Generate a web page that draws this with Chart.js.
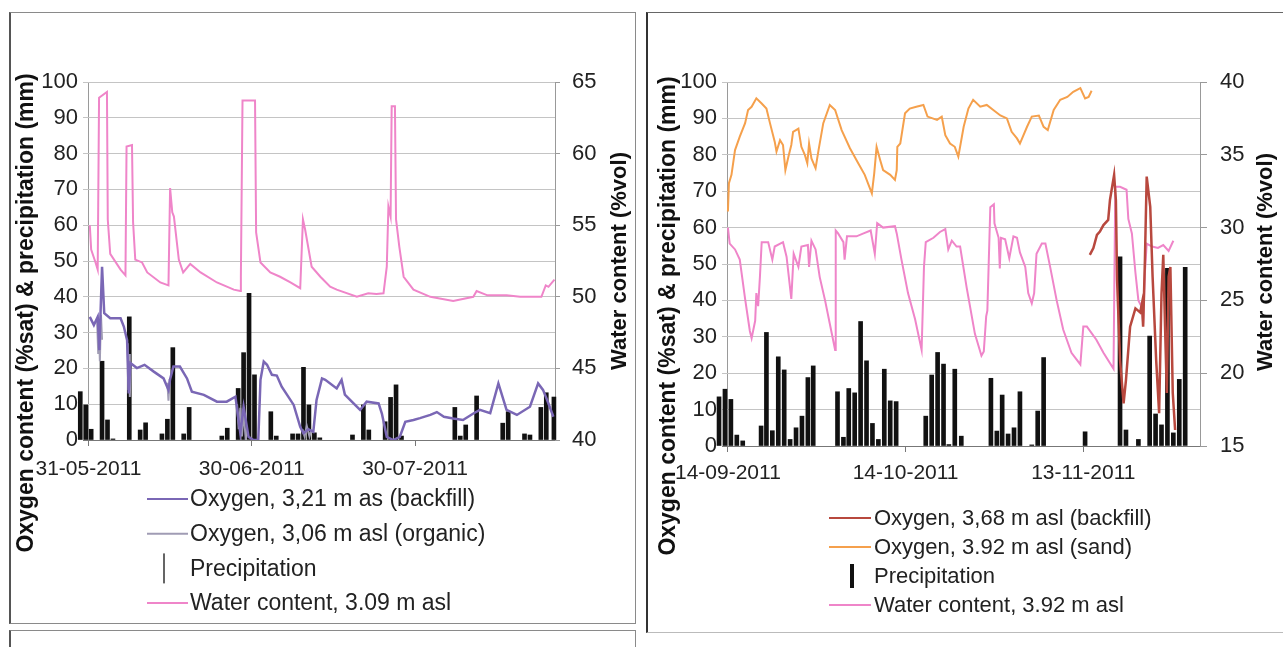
<!DOCTYPE html>
<html>
<head>
<meta charset="utf-8">
<script src="https://cdn.jsdelivr.net/npm/chart.js@4.4.0/dist/chart.umd.min.js"></script>
<style>
  body { margin:0; background:#fff; width:1283px; height:647px; overflow:hidden; position:relative; }
  .panel { position:absolute; box-sizing:border-box; background:#fff; }
  #boxL  { left:9px; top:12px; width:627px; height:612px; border:1px solid #8a8a8a; border-left:2px solid #555; }
  #boxL2 { left:9px; top:630px; width:627px; height:40px; border:1px solid #8a8a8a; border-left:2px solid #555; }
  #boxR  { left:646px; top:12px; width:660px; height:621px; border-top:1px solid #666; border-left:2px solid #333; border-bottom:1px solid #bbb; }
  canvas { position:absolute; }
  #cL { left:10px; top:13px; }
  #cR { left:649px; top:13px; }
</style>
</head>
<body>
<div class="panel" id="boxL"></div>
<div class="panel" id="boxL2"></div>
<div class="panel" id="boxR"></div>
<canvas id="cL" width="624" height="609"></canvas>
<canvas id="cR" width="634" height="618"></canvas>
<script>
// ─────────────────────────────────────────────────────────────────────────────
//  DATA — x = days since first date tick
// ─────────────────────────────────────────────────────────────────────────────

// left panel: 31-05-2011 .. late 08-2011
const leftTickDays   = [0, 30, 60];
const leftTickLabels = ['31-05-2011', '30-06-2011', '30-07-2011'];

const leftWaterDay = [0.25,0.5,1.3,1.7,1.95,3.4,3.55,4.0,5.9,6.8,7.0,8.0,8.2,8.6,9.85,10.8,13.2,14.7,15.0,15.4,15.7,16.6,17.4,18.7,20.6,23.6,26.7,27.9,28.0,28.3,30.6,30.8,31.6,33.4,35.2,37.1,38.9,39.4,39.8,41.0,42.6,44.4,45.6,49.3,51.4,52.9,54.2,54.8,55.1,55.5,55.7,56.3,56.5,57.1,57.9,59.7,62.8,67.0,70.7,71.3,73.3,76.8,79.3,83.2,84.0,84.5,85.6];
const leftWaterVol = [55.0,53.3,52.4,51.9,63.9,64.3,55.4,53.0,51.9,51.5,60.5,60.6,55.2,52.6,52.4,51.7,51.0,50.8,57.6,55.9,55.6,52.6,51.7,52.3,51.7,51.0,50.5,50.4,51.4,63.7,63.7,54.5,52.4,51.7,51.4,51.0,50.6,55.4,54.7,52.1,51.4,50.7,50.5,50.0,50.25,50.2,50.25,52.1,56.3,55.6,63.3,63.3,55.4,53.5,51.4,50.5,50.0,49.7,50.0,50.4,50.1,50.1,50.0,50.0,50.8,50.7,51.2];

const leftBackfillDay = [0.25,1.0,1.7,2.0,2.5,2.9,4.0,5.9,6.5,7.1,7.4,7.7,8.9,10.3,12.0,13.8,14.7,15.0,15.6,16.8,18.1,19.0,21.2,23.6,25.4,27.0,27.4,27.9,28.5,29.4,30.3,31.2,31.6,32.2,32.8,33.7,34.6,35.5,37.7,38.9,39.5,40.4,41.3,41.9,42.9,43.5,45.6,46.5,47.1,48.7,49.9,51.1,53.3,53.9,54.8,56.0,57.2,58.2,59.7,60.9,62.8,64.0,65.3,67.0,68.8,70.7,71.9,73.8,75.3,76.8,78.7,81.1,82.6,83.5,84.5,85.4];
const leftBackfillSat = [34.4,32.1,34.4,25.1,48.4,35.4,34.0,34.0,31.7,27.9,13.0,21.5,20.1,21.0,19.1,17.2,14.0,17.0,20.5,20.5,17.2,13.5,12.6,10.7,10.7,12.1,7.5,1.9,9.3,0.9,0,0,16.8,21.9,21.0,18.2,18.0,14.9,9.8,3.7,1.9,3.0,2.3,11.2,17.2,16.8,14.4,16.8,12.7,10.2,8.4,10.7,10.2,7.4,0.9,0,0.9,5.1,5.6,6.1,7.0,7.8,6.5,6.0,5.6,7.4,8.4,7.5,15.8,8.4,7.0,9.3,15.8,14.0,10.2,6.5];

const leftOrganicDay = [1.6,1.8,1.95,2.1,2.3,2.5,2.6, 7.2,7.35,7.5,7.6,7.75,7.9, 14.5,14.7,14.9,15.0, 27.3,27.6,27.9,28.2,28.5,28.9,29.0, 39.3,39.7,40.1,40.6,41.0];
const leftOrganicSat = [33,24,30,22,35,28,null, 27,14,24,12,20,null, 16,11,17,null, 10,3,9,1,8,0,null, 3,1,4,1,3];

const leftRainDay = [-1.5,-0.5,0.5,2.5,3.5,4.5,7.5,9.5,10.5,13.5,14.5,15.5,17.5,18.5,24.5,25.5,27.5,28.5,29.5,30.5,33.5,34.5,37.5,38.5,39.5,40.5,41.5,42.5,48.5,50.5,51.5,54.5,55.5,56.5,57.5,67.3,68.3,69.3,71.3,76.1,77.1,80.1,81.1,83.1,84.1,85.5];
const leftRainMm  = [13.5,9.8,3.0,22,5.6,0.3,34.4,2.8,4.8,1.7,5.8,25.8,1.7,9.1,1.1,3.3,14.4,24.4,41.0,18.2,7.9,1.1,1.7,1.7,20.3,9.8,2.0,0.6,1.4,9.8,2.8,5.1,11.9,15.4,1.1,9.1,1.1,4.2,12.3,4.7,7.9,1.7,1.4,9.1,13.2,12.0];

// right panel: 14-09-2011 .. early 12-2011
const rightTickDays   = [0, 30, 60];
const rightTickLabels = ['14-09-2011', '14-10-2011', '13-11-2011'];

const rightSandDay = [0,0.17,0.6,1.2,2.0,2.9,3.4,4.0,4.8,5.7,6.5,7.1,7.9,8.2,8.8,9.3,9.7,10.2,10.7,11.0,11.9,12.4,13.0,13.4,13.7,14.1,14.8,15.3,16.1,17.2,18.1,19.2,20.6,22.0,23.1,24.3,24.7,25.1,25.7,26.2,27.4,28.2,28.5,28.6,29.1,29.9,30.7,31.8,33.0,33.7,35.3,36.1,36.7,37.5,38.3,38.9,39.8,40.6,41.4,42.6,43.7,44.8,46.0,47.1,47.9,48.8,49.3,50.5,51.3,52.5,53.3,54.0,55.0,56.1,57.3,58.3,59.5,60.3,60.9,61.4];
const rightSandSat = [64.4,72.2,74.5,81.3,85,88.7,92.3,93.2,95.5,94.1,92.7,88.7,83.6,80.9,84,82.7,75.8,79.4,82.7,86.3,87.2,82.2,79.9,77.7,83.1,79,76.3,81.3,88.7,93.7,92.3,86.8,81.8,77.7,74.5,69.4,74.9,82.2,78.6,75.8,74.5,73.1,75.8,82.2,83.1,91.4,92.7,93.2,93.7,90.5,89.6,90.5,85.4,83.1,82.2,79.5,87.7,92.7,95.1,93.2,93.7,92.3,90.8,90,86.3,84.5,83.1,87.7,90.5,90.8,87.7,86.8,92.3,95.1,95.9,97.3,98.3,95.5,95.9,97.6];

const rightBackfillDay = [61.1,61.7,62.3,62.8,63.4,64.2,64.5,65.2,65.5,65.7,66.2,66.8,67.2,67.9,68.8,69.6,69.9,70.1,70.4,70.7,71.3,71.7,72.3,72.8,73.2,73.5,73.8,74.1,74.4,74.7,75.1,75.5];
const rightBackfillSat = [52.5,54.4,58.0,58.9,60.7,62.1,67.6,74.5,67.6,45.6,23.6,11.7,18.1,32.8,37.8,36.7,39.2,32.8,51.1,74.0,65.7,46.4,23.6,9.0,41.9,52.5,32.8,14.6,46.5,49.2,14.6,4.4];

const rightWaterDay = [0,0.3,1.2,2.0,2.9,3.7,4.0,4.6,4.8,5.1,5.4,5.7,6.8,7.5,7.9,9.3,9.9,10.7,11.1,11.9,12.4,13.5,13.7,14.1,14.8,15.5,16.4,17.2,18.1,18.2,18.6,19.5,19.7,20.1,21.7,22.9,24.1,24.8,25.2,26.2,28.2,28.5,29.3,30.4,31.6,32.7,33.1,33.4,34.7,35.8,36.7,37.2,37.8,38.6,39.2,40.3,41.7,42.8,43.2,43.6,43.8,44.3,44.9,45.0,45.7,45.9,46.1,46.8,47.5,48.2,48.8,49.3,50.2,50.7,51.3,51.7,52.1,53.0,53.6,54.4,55.5,56.6,58.0,59.5,60.0,60.6,62.2,63.4,65.1,65.4,66.2,67.3,67.6,68.2,68.8,69.3,69.9,70.1,70.4,70.7,71.6,72.6,73.5,74.4,75.2];
const rightWaterVol = [30.0,28.9,28.5,27.8,25.1,22.9,22.4,23.6,25.5,24.6,26.6,29.0,29.0,27.8,28.7,29.0,28,25.1,28.2,27.3,28.7,28.8,27.3,29.1,28.5,26.6,25.0,23.4,21.6,29.8,29.6,29.0,27.8,29.4,29.4,29.6,29.8,28.2,30.3,30.0,30.1,29.6,27.8,25.5,23.7,21.6,27.3,29.0,29.3,29.7,29.9,28.5,29.1,28.7,28.7,25.9,22.7,21.2,21.5,23.9,24.3,31.4,31.6,30.3,29.3,27.2,29.3,29.2,27.9,29.4,29.3,28.3,27.3,25.5,24.8,25.5,28.2,28.9,28.9,27.3,25.0,23.0,21.4,20.6,23.2,23.2,22.3,21.4,20.3,32.8,32.8,32.6,30.6,29.6,26.9,25.0,24.5,23.4,26.9,28.9,28.7,28.6,28.8,28.4,29.1];

const rightRainDay = [-1.5,-0.5,0.5,1.5,2.5,5.6,6.5,7.5,8.5,9.5,10.5,11.5,12.5,13.5,14.4,18.5,19.5,20.4,21.4,22.4,23.4,24.4,25.4,26.4,27.4,28.4,33.4,34.4,35.4,36.4,37.3,38.3,39.4,44.4,45.4,46.3,47.3,48.3,49.3,51.3,52.3,53.3,60.3,66.2,67.2,69.3,71.2,72.2,73.2,74.2,75.2,76.2,77.2];
const rightRainMm  = [13.5,15.6,12.8,3.0,1.4,5.5,31.2,4.2,24.5,20.9,1.8,5.0,8.2,18.8,22.0,14.9,2.4,15.8,14.6,34.2,23.4,6.2,1.8,21.1,12.4,12.2,8.2,19.5,25.7,22.5,0.4,21.1,2.7,18.6,4.1,14.0,3.3,5.0,14.9,0.3,9.6,24.3,3.9,52.0,4.4,1.8,30.2,8.8,5.8,48.8,3.6,18.3,49.1];

const titleLeftAxis  = 'Oxygen content (%sat) & precipitation (mm)';
const titleRightAxis = 'Water content (%vol)';

// ─────────────────────────────────────────────────────────────────────────────
//  HELPERS
// ─────────────────────────────────────────────────────────────────────────────
const FONT = '"Liberation Sans", Arial, sans-serif';
Chart.defaults.font.family = FONT;
Chart.defaults.color = '#222';

const pts = (xs, ys) => xs.map((x, i) => ({ x, y: ys[i] }));

const ln = (label, xs, ys, color, axis, w=2, order=1) => ({
  type:'line', label, data:pts(xs, ys), yAxisID:axis,
  borderColor:color, backgroundColor:color, borderWidth:w,
  pointRadius:0, tension:0, spanGaps:false, order
});

const rain = (xs, ys) => ({
  type:'bar', label:'Precipitation', data:pts(xs, ys), yAxisID:'y',
  backgroundColor:'#111', borderWidth:0, barThickness:4, clip:false, order:10
});

// axis titles + stacked legend, drawn on the canvas
const deco = c => ({
  id:'deco',
  afterDraw(chart) {
    const ctx = chart.ctx;
    ctx.save();
    ctx.fillStyle = '#111';
    ctx.textAlign = 'center'; ctx.textBaseline = 'middle';
    c.titles.forEach(t => {
      ctx.save();
      ctx.font = `bold ${t.size}px ${FONT}`;
      ctx.translate(t.x, t.y); ctx.rotate(-Math.PI/2);
      ctx.fillText(t.text, 0, 0);
      ctx.restore();
    });
    const L = c.legend;
    ctx.font = `${L.size}px ${FONT}`;
    ctx.textAlign = 'left';
    L.order.forEach((di, i) => {
      const ds = chart.data.datasets[di];
      const y = L.y + i*L.dy;
      if (ds.type === 'bar') {
        ctx.fillStyle = L.markColor;
        ctx.fillRect(L.markX - L.markW/2, y - L.markH/2, L.markW, L.markH);
      } else {
        ctx.strokeStyle = ds.borderColor; ctx.lineWidth = 2;
        ctx.beginPath(); ctx.moveTo(L.x0, y); ctx.lineTo(L.x1, y); ctx.stroke();
      }
      ctx.fillStyle = '#222';
      ctx.fillText(ds.label, L.tx, y + 1);
    });
    ctx.restore();
  }
});

const mkPanel = (id, c) => new Chart(document.getElementById(id), {
  type:'line',
  data:{ datasets:c.datasets },
  options:{
    responsive:false, animation:false, devicePixelRatio:1,
    layout:{ padding:{ top:c.top, left:0, right:0, bottom:0 } },
    plugins:{ legend:{ display:false }, tooltip:{ enabled:false } },
    scales:{
      x:{
        type:'linear', min:c.xMin, max:c.xMax, offset:false,
        afterBuildTicks:s => { s.ticks = c.tickDays.map(v => ({ value:v })); },
        ticks:{ autoSkip:false, maxRotation:0, minRotation:0, padding:c.xPad, color:'#222', font:{ size:21 },
          callback:v => c.tickLabels[c.tickDays.indexOf(v)] ?? '' },
        grid:{ offset:false, color:ctx => (ctx.tick && ctx.tick.value === 0) ? '#9a9a9a' : 'rgba(0,0,0,0)',
          tickColor:'#777', tickLength:6, lineWidth:1 },
        border:{ color:'#777', width:1 },
        afterFit:s => { s.height = c.xH; }
      },
      y:{
        position:'left', min:0, max:100,
        ticks:{ stepSize:10, padding:5, color:'#222', font:{ size:22 } },
        grid:{ color:'#c4c4c4', drawTicks:false, lineWidth:1 },
        border:{ display:false },
        afterFit:s => { s.width = c.yW; }
      },
      y2:{
        position:'right', min:c.wMin, max:c.wMax,
        ticks:{ stepSize:5, padding:c.y2Pad, color:'#222', font:{ size:22 } },
        grid:{ drawOnChartArea:false, tickLength:c.y2Tick, tickColor:'#999' },
        border:{ color:'#999', width:1 },
        afterFit:s => { s.width = c.y2W; }
      }
    }
  },
  plugins:[deco(c)]
});

// ─────────────────────────────────────────────────────────────────────────────
//  LEFT PANEL
// ─────────────────────────────────────────────────────────────────────────────
mkPanel('cL', {
  top:69, xH:182, yW:73, y2W:79, xMin:-1, xMax:85.7, xPad:11, y2Pad:12, y2Tick:5,
  wMin:40, wMax:65, tickDays:leftTickDays, tickLabels:leftTickLabels,
  datasets:[
    ln('Oxygen, 3,21 m as (backfill)',   leftBackfillDay, leftBackfillSat, '#7a67b5', 'y', 2.5, 1),
    ln('Oxygen, 3,06 m asl (organic)',   leftOrganicDay,  leftOrganicSat,  '#a09cb4', 'y', 2, 2),
    rain(leftRainDay, leftRainMm),
    ln('Water content, 3.09 m asl',      leftWaterDay,    leftWaterVol,    '#ef85c9', 'y2', 2, 3)
  ],
  titles:[
    { text:titleLeftAxis,  x:17,  y:300, size:23 },
    { text:titleRightAxis, x:610, y:248, size:22 }
  ],
  legend:{ order:[0,1,2,3], y:486, dy:34.7, x0:137, x1:178, tx:180, size:23,
           markX:154, markW:1.5, markH:30, markColor:'#333' }
});

// ─────────────────────────────────────────────────────────────────────────────
//  RIGHT PANEL
// ─────────────────────────────────────────────────────────────────────────────
mkPanel('cR', {
  top:69, xH:185, yW:73, y2W:83, xMin:-1, xMax:79.7, xPad:9, y2Pad:13, y2Tick:7,
  wMin:15, wMax:40, tickDays:rightTickDays, tickLabels:rightTickLabels,
  datasets:[
    ln('Oxygen, 3,68 m asl (backfill)', rightBackfillDay, rightBackfillSat, '#b8483e', 'y', 2.5, 1),
    ln('Oxygen, 3.92 m asl (sand)',     rightSandDay,     rightSandSat,     '#f5a04c', 'y', 2, 2),
    rain(rightRainDay, rightRainMm),
    ln('Water content, 3.92 m asl',     rightWaterDay,    rightWaterVol,    '#ef85c9', 'y2', 2, 3)
  ],
  titles:[
    { text:titleLeftAxis,  x:20,  y:303, size:23 },
    { text:titleRightAxis, x:617, y:249, size:22 }
  ],
  legend:{ order:[0,1,2,3], y:505, dy:29, x0:180, x1:222, tx:225, size:22,
           markX:203, markW:4, markH:24, markColor:'#111' }
});
</script>
</body>
</html>
